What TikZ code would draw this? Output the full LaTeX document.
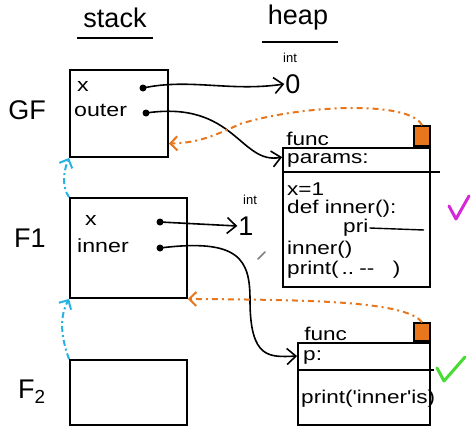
\documentclass[tikz,border=0pt]{standalone}
\usepackage{fontspec}
\setmainfont{Liberation Sans}
\newfontfamily\hand[FakeStretch=1.22]{Liberation Sans}
\usetikzlibrary{arrows.meta}
\definecolor{myorange}{RGB}{232,118,28}
\definecolor{mycyan}{RGB}{40,178,228}
\definecolor{mypurple}{RGB}{214,40,214}
\definecolor{mygreen}{RGB}{70,220,50}
\tikzset{
  frame/.style={draw, line width=1.8pt, inner sep=0pt, rectangle},
  dot/.style={circle, fill, inner sep=0pt, minimum size=7pt},
  lbl/.style={font=\fontsize{27}{29}\selectfont, inner sep=1pt},
  title/.style={font=\fontsize{27}{29}\selectfont, inner sep=1pt},
  var/.style={font=\hand\fontsize{19}{21}\selectfont, inner sep=1pt, anchor=west},
  code/.style={font=\hand\fontsize{18.5}{20}\selectfont, inner sep=1pt, anchor=west},
  small/.style={font=\fontsize{13}{14}\selectfont, inner sep=1pt},
  ptr/.style={line width=1.6pt, -{Straight Barb[length=9pt,width=16pt,line width=1.6pt]}},
  back/.style={myorange, line width=2pt, dash pattern=on 6pt off 4pt on 2pt off 4pt, -{Straight Barb[length=7pt,width=14pt,line width=2pt]}},
  link/.style={mycyan, line width=2pt, dash pattern=on 6pt off 3pt on 2pt off 3pt, -{Straight Barb[length=7pt,width=14pt,line width=2pt]}},
  rule/.style={line width=1.8pt},
  tick/.style={line width=3pt, line cap=round, line join=round}
}
\begin{document}
\begin{tikzpicture}[x=1pt,y=-1pt]
\useasboundingbox[fill=white] (0,0) rectangle (471,431);

% titles
\node[title] (stack) at (115,18) {stack};
\node[title] (heap) at (298,18) {heap};
\draw[rule] (77,38) -- (153,38);
\draw[rule] (262,42) -- (338,42);

% frame labels
\node[lbl] (gfl) at (27,110) {GF};
\node[lbl] (f1l) at (30,238) {F1};
\node[lbl] (f2l) at (32,392) {F\textsubscript{2}};

% stack frames
\node[frame, minimum width=98pt, minimum height=87pt] (gf) at (119,113.5) {};
\node[frame, minimum width=117pt, minimum height=100pt] (f1) at (128.5,248) {};
\node[frame, minimum width=117pt, minimum height=65pt] (f2) at (128.5,392.5) {};

\node[var] (gfx) at (76,86) {x};
\node[var] (gfo) at (73,110) {outer};
\node[dot] (gfxd) at (143,88) {};
\node[dot] (gfod) at (146,113) {};

\node[var] (f1x) at (84,220) {x};
\node[var] (f1i) at (76,246) {inner};
\node[dot] (f1xd) at (160,222) {};
\node[dot] (f1id) at (160,248) {};

% heap ints
\node[small] (int0) at (290,58) {int};
\node[lbl] (zero) at (293,84) {0};
\node[small] (int1) at (250,200) {int};
\node[lbl] (one) at (246,226) {1};

% func 1
\node[frame, minimum width=147pt, minimum height=139pt] (fn1) at (356.5,217.5) {};
\node[frame, fill=myorange, minimum width=16pt, minimum height=20pt, anchor=south east] (sq1) at (fn1.north east) {};
\node[code, anchor=south west] (fn1t) at ([xshift=3pt]fn1.north west) {func};
\coordinate (p1) at (283,172);
\draw[rule] (p1) -- (440,172);
\node[code] (params) at (286,160) {params:};
\node[code] (c1) at (286,189) {x=1};
\node[code] (c2) at (286,209) {def inner():};
\node[code] (c3) at (342,228) {pri};
\draw[line width=1.4pt] (c3.east) -- (424,230);
\node[code] (c4) at (286,250) {inner()};
\node[code] (c5) at (286,270) {print(\,..\;-{}-\quad)};

% func 2
\node[frame, minimum width=132pt, minimum height=82pt] (fn2) at (364,384) {};
\node[frame, fill=myorange, minimum width=16pt, minimum height=18pt, anchor=south east] (sq2) at (fn2.north east) {};
\node[code, anchor=south west] (fn2t) at ([xshift=6pt]fn2.north west) {func};
\coordinate (p2) at (298,370);
\draw[rule] (p2) -- (434,370);
\node[code] (pp) at (302,357) {p:};
\node[code] (c6) at (300,399) {print('inner'is)};

% pointers
\draw[ptr] (gfxd.center) .. controls (190,78) and (230,92) .. (zero.west);
\draw[ptr] (gfod.center) .. controls (235,100) and (240,165) .. ([yshift=-10pt]fn1.north west);
\draw[ptr] (f1xd.center) -- (one.west);
\draw[ptr] (f1id.center) .. controls (240,238) and (250,260) .. (250,300) .. controls (250,360) and (270,357) .. ([yshift=-14pt]fn2.north west);

% back links (orange)
\draw[back] (sq1.north) .. controls (410,100) and (300,105) .. (240,124) .. controls (210,138) and (195,143) .. ([yshift=-30pt]gf.east);
\draw[back] (sq2.north) .. controls (405,300) and (300,300) .. (f1.south east);

% stack links (cyan)
\draw[link] (f1.north west) .. controls (62,188) and (63,172) .. (gf.south west);
\draw[link] (f2.north west) .. controls (60,335) and (60,315) .. (f1.south west);

% ticks
\draw[tick, mypurple] (449,206) -- (456,219) -- (469,196);
\draw[tick, mygreen] (437,368) -- (444,381) -- (465,357);

% stray mark
\draw[gray, line width=1.5pt, line cap=round] (258,259) -- (265,252);
\end{tikzpicture}
\end{document}
